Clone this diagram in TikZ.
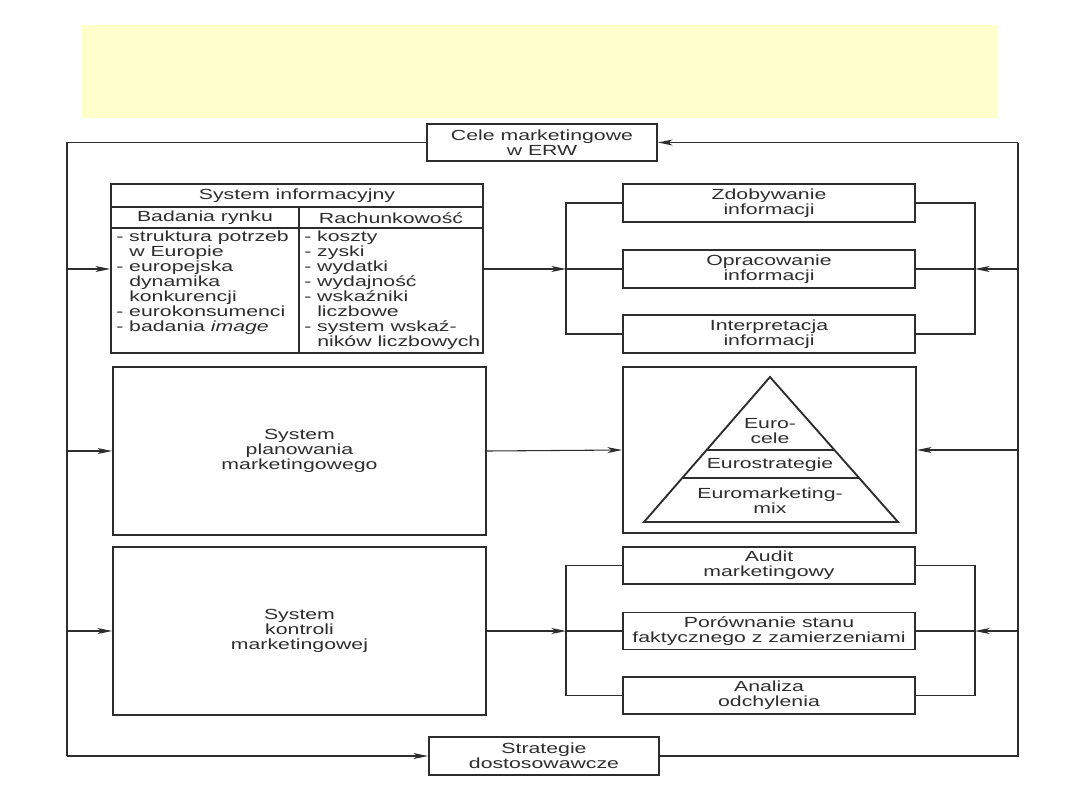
\documentclass[tikz,border=0pt]{standalone}
\usepackage{fontspec}
\setmainfont{Liberation Sans}[FakeStretch=1.45]
\usetikzlibrary{arrows.meta,calc}
\definecolor{banner}{RGB}{255,255,204}
\definecolor{ink}{RGB}{45,45,45}
\begin{document}
\begin{tikzpicture}[x=0.75pt,y=-0.75pt,
  txtf/.style={font=\fontsize{11}{11.2}\selectfont, text=ink},
  box/.style={draw=ink, line width=1.4pt, rectangle, align=center, inner sep=0pt, txtf},
  txt/.style={align=center, inner sep=0pt, txtf},
  col/.style={align=left, inner sep=0pt, anchor=north west, txtf},
  conn/.style={draw=ink, line width=0.8pt},
  arr/.style={conn, -{Stealth[length=11pt,width=4.5pt,inset=3pt]}}]
\useasboundingbox (0,0) rectangle (1080,810);
\fill[banner] (82,25) rectangle (998,118);

% top and bottom
\node[box, minimum width=172.5pt, minimum height=27.75pt] (cele) at (542,142.5) {Cele marketingowe\\w ERW};
\node[box, minimum width=172.5pt, minimum height=28.5pt] (strat) at (544,756) {Strategie\\dostosowawcze};

% information system table
\node[box, minimum width=279pt, minimum height=126.75pt] (tab) at (297,268.5) {};
\draw[ink, line width=1.4pt] (111,207) -- (483,207);
\draw[ink, line width=1.4pt] (111,228) -- (483,228);
\draw[ink, line width=1.4pt] (299,207) -- (299,353);
\node[txt] (th) at (297,196) {System informacyjny};
\node[txt] (th1) at (205,218) {Badania rynku};
\node[txt] (th2) at (391,218) {Rachunkowość};
\node[col] (c1) at (116,231) {- struktura potrzeb\\\phantom{- }w Europie\\- europejska\\\phantom{- }dynamika\\\phantom{- }konkurencji\\- eurokonsumenci\\- badania \textit{image}};
\node[col] (c2) at (304,231) {- koszty\\- zyski\\- wydatki\\- wydajność\\- wskaźniki\\\phantom{- }liczbowe\\- system wskaź-\\\phantom{- }ników liczbowych};

% left boxes
\node[box, minimum width=279.75pt, minimum height=126pt] (plan) at (299.5,451) {System\\planowania\\marketingowego};
\node[box, minimum width=279.75pt, minimum height=126pt] (kon) at (299.5,631) {System\\kontroli\\marketingowej};

% right info boxes
\node[box, minimum width=219pt, minimum height=28.5pt] (zdob) at (769,203) {Zdobywanie\\informacji};
\node[box, minimum width=219pt, minimum height=28.5pt] (opr) at (769,269) {Opracowanie\\informacji};
\node[box, minimum width=219pt, minimum height=28.5pt] (interp) at (769,334) {Interpretacja\\informacji};

% pyramid box
\node[box, minimum width=219.75pt, minimum height=124.5pt] (pyr) at (769.5,450) {};
\coordinate (PA) at (770,377);
\coordinate (PL) at (644,522);
\coordinate (PR) at (898,522);
\draw[ink, line width=1.4pt, line join=miter] (PA) -- (PL) -- (PR) -- cycle;
\draw[ink, line width=1.4pt] ($(PA)!{73/145}!(PL)$) -- ($(PA)!{73/145}!(PR)$);
\draw[ink, line width=1.4pt] ($(PA)!{101/145}!(PL)$) -- ($(PA)!{101/145}!(PR)$);
\node[txt] (p1) at (770,431) {Euro-\\cele};
\node[txt] (p2) at (770,465) {Eurostrategie};
\node[txt] (p3) at (770,501) {Euromarketing-\\mix};

% control boxes
\node[box, minimum width=219pt, minimum height=27.75pt] (aud) at (769,565.5) {Audit\\marketingowy};
\node[box, minimum width=219pt, minimum height=27.75pt] (por) at (769,631) {Porównanie stanu\\faktycznego z zamierzeniami};
\node[box, minimum width=219pt, minimum height=27.75pt] (ana) at (769,695.5) {Analiza\\odchylenia};

% outer loop
\coordinate (TL) at (67,142.5);
\coordinate (BL) at (67,756);
\coordinate (TR) at (1018,142.5);
\coordinate (BR) at (1018,756);
\draw[conn] (cele.west) -- (TL) -- (BL);
\draw[arr] (BL) -- (strat.west);
\draw[conn] (strat.east) -- (BR) -- (TR);
\draw[arr] (TR) -- (cele.east);

% left feeds
\coordinate (L1) at (67,269);
\draw[arr] (L1) -- (L1 -| tab.west);
\draw[arr] (plan.west -| TL) -- (plan.west);
\draw[arr] (kon.west -| TL) -- (kon.west);

% info bracket
\coordinate (IB) at (566,269);
\coordinate (IR) at (975,269);
\draw[arr] (IB -| tab.east) -- (IB);
\draw[conn] (IB) -- (opr.west);
\draw[conn] (zdob.west) -| (IB) |- (interp.west);
\draw[arr] (IR -| TR) -- (IR);
\draw[conn] (IR) -- (opr.east);
\draw[conn] (zdob.east) -| (IR) |- (interp.east);

% pyramid
\draw[arr] (plan.east) -- (pyr.west);
\draw[arr] (pyr.east -| TR) -- (pyr.east);

% control bracket
\coordinate (KB) at (566,631);
\coordinate (KR) at (975,631);
\draw[arr] (kon.east) -- (KB);
\draw[conn] (KB) -- (por.west);
\draw[conn] (aud.west) -| (KB) |- (ana.west);
\draw[arr] (KR -| TR) -- (KR);
\draw[conn] (KR) -- (por.east);
\draw[conn] (aud.east) -| (KR) |- (ana.east);
\end{tikzpicture}
\end{document}
